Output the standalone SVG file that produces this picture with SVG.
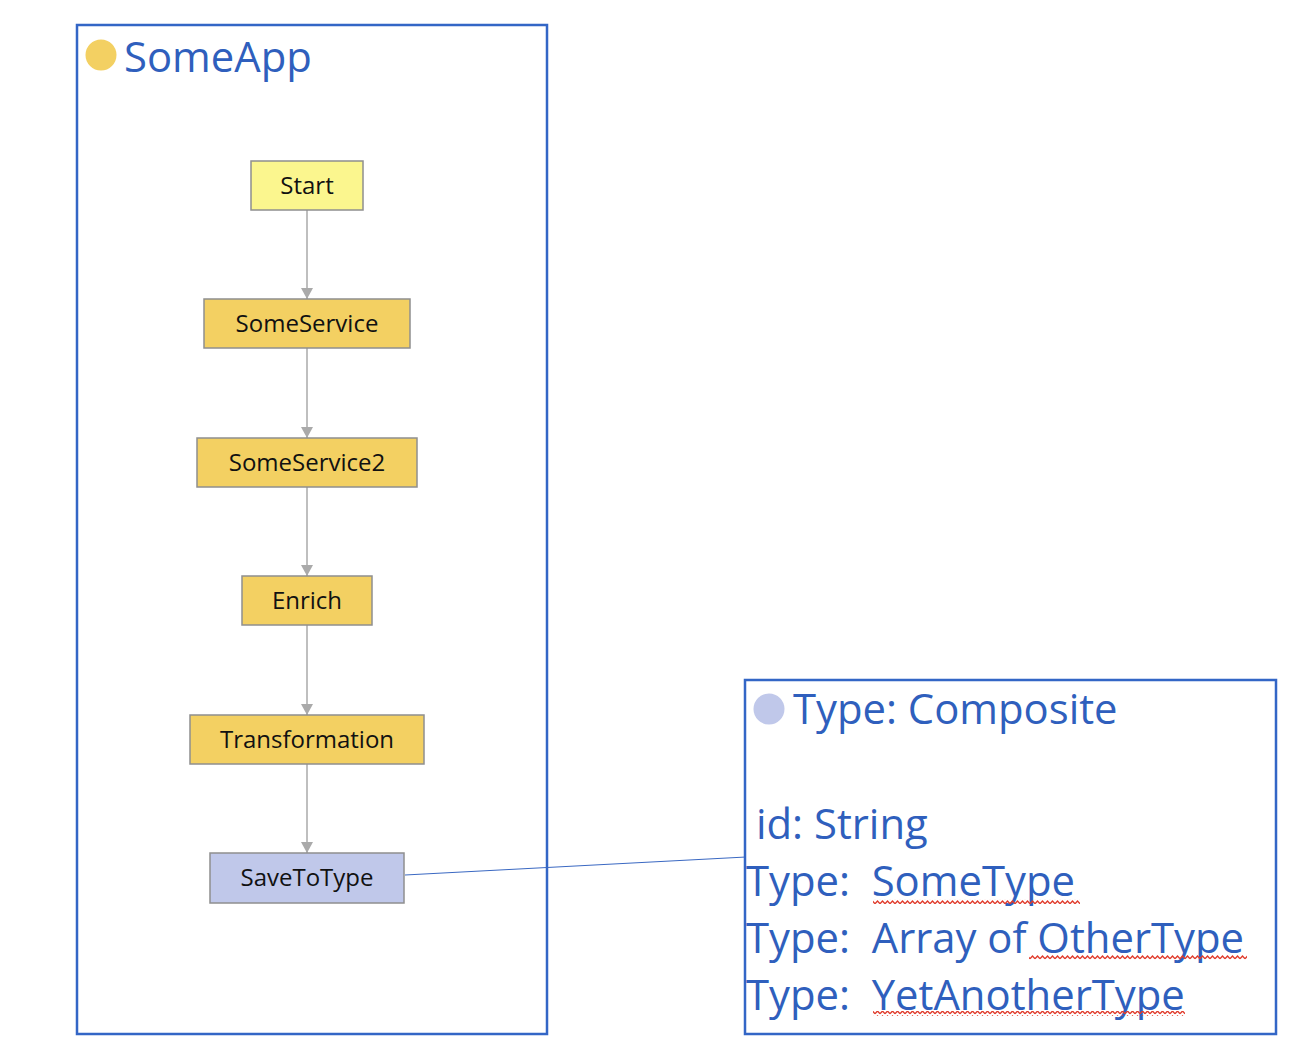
<svg xmlns="http://www.w3.org/2000/svg" width="1292" height="1054" viewBox="0 0 1292 1054">
<style>
.cont{fill:#fff;stroke:#3366c6;stroke-width:2.5}
.node{stroke:#8f8f8f;stroke-width:1.5}
.ntxt{font-family:"Open Sans","Noto Sans",sans-serif;font-size:24px;fill:#111;text-anchor:middle}
.big{font-family:"Open Sans","Noto Sans",sans-serif;font-size:41.8px;fill:#2f5fbd}
.edge{stroke:#aaaaaa;stroke-width:1.5;fill:none}
</style>
<defs>
<marker id="arr" markerWidth="12" markerHeight="12" refX="11" refY="6" orient="auto" markerUnits="userSpaceOnUse">
<path d="M0,0 L11,6 L0,12 Z" fill="#aaaaaa"/>
</marker>
<pattern id="squig" width="5" height="5" patternUnits="userSpaceOnUse">
<path d="M0,3.8 L2.5,1 L5,3.8" fill="none" stroke="#e03a2a" stroke-width="1.3"/>
</pattern>
</defs>
<rect width="1292" height="1054" fill="#fff"/>

<g id="SomeApp">
<rect class="cont" x="77" y="25" width="470" height="1009"/>
<circle cx="101" cy="55" r="15.5" fill="#f3d062"/>
<text class="big" x="124" y="72">SomeApp</text>
</g>

<g id="connectors">
<line class="edge" x1="307" y1="210" x2="307" y2="299" marker-end="url(#arr)"/>
<line class="edge" x1="307" y1="348" x2="307" y2="438" marker-end="url(#arr)"/>
<line class="edge" x1="307" y1="487" x2="307" y2="576" marker-end="url(#arr)"/>
<line class="edge" x1="307" y1="625" x2="307" y2="715" marker-end="url(#arr)"/>
<line class="edge" x1="307" y1="764" x2="307" y2="853" marker-end="url(#arr)"/>
<line x1="405" y1="875" x2="746" y2="857" stroke="#3a68c2" stroke-width="1"/>
</g>

<g id="Start">
<rect class="node" x="251" y="161" width="112" height="49" fill="#fbf68e"/>
<text class="ntxt" x="307" y="194">Start</text>
</g>
<g id="SomeService">
<rect class="node" x="204" y="299" width="206" height="49" fill="#f3d062"/>
<text class="ntxt" x="307" y="332">SomeService</text>
</g>
<g id="SomeService2">
<rect class="node" x="197" y="438" width="220" height="49" fill="#f3d062"/>
<text class="ntxt" x="307" y="471">SomeService2</text>
</g>
<g id="Enrich">
<rect class="node" x="242" y="576" width="130" height="49" fill="#f3d062"/>
<text class="ntxt" x="307" y="609">Enrich</text>
</g>
<g id="Transformation">
<rect class="node" x="190" y="715" width="234" height="49" fill="#f3d062"/>
<text class="ntxt" x="307" y="748">Transformation</text>
</g>
<g id="SaveToType">
<rect class="node" x="210" y="853" width="194" height="50" fill="#c0c8ea"/>
<text class="ntxt" x="307" y="886">SaveToType</text>
</g>

<g id="Composite">
<rect class="cont" x="745" y="680" width="531" height="354"/>
<circle cx="769" cy="709" r="15.5" fill="#c0c8ea"/>
<text class="big" x="793" y="724">Type: Composite</text>
<text class="big" x="756" y="839">id: String</text>
<text class="big" x="746" y="896" xml:space="preserve">Type:  SomeType</text>
<text class="big" x="746" y="953" xml:space="preserve">Type:  Array of OtherType</text>
<text class="big" x="746" y="1010" xml:space="preserve">Type:  YetAnotherType</text>
<rect x="873" y="899" width="207" height="5" fill="url(#squig)"/>
<rect x="1029" y="955" width="218" height="5" fill="url(#squig)"/>
<rect x="873" y="1011" width="312" height="5" fill="url(#squig)"/>
</g>
</svg>
